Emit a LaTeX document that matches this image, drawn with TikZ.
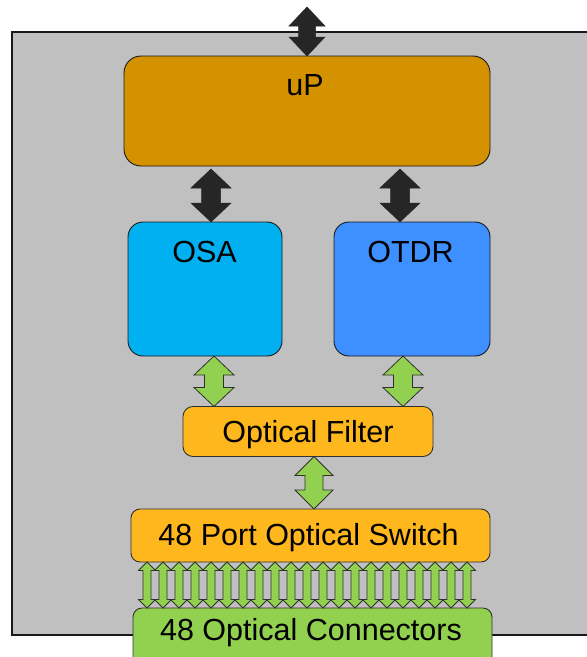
\documentclass[tikz,border=0pt]{standalone}
\usepackage{fontspec}
\setmainfont{Liberation Sans}
\usetikzlibrary{calc}

\definecolor{panelgray}{HTML}{C0C0C0}
\definecolor{cpuorange}{HTML}{D49200}
\definecolor{osablue}{HTML}{00B0F0}
\definecolor{otdrblue}{HTML}{3E8FFF}
\definecolor{amber}{HTML}{FFB71E}
\definecolor{leaf}{HTML}{92D050}
\definecolor{darkarrow}{HTML}{262626}
\definecolor{edge}{HTML}{303030}

% vertical double-headed block arrow:
% #1 top tip, #2 bottom tip, #3 half head width, #4 half shaft width, #5 head length, #6 style
\newcommand{\dblarrow}[6]{%
  \filldraw[#6] (#1) -- ([shift={(#3,#5)}]#1) -- ([shift={(#4,#5)}]#1)
    -- ([shift={(#4,-#5)}]#2) -- ([shift={(#3,-#5)}]#2) -- (#2)
    -- ([shift={(-#3,-#5)}]#2) -- ([shift={(-#4,-#5)}]#2)
    -- ([shift={(-#4,#5)}]#1) -- ([shift={(-#3,#5)}]#1) -- cycle;}

\tikzset{
  box/.style={draw=black!90, line width=0.9pt, inner sep=0pt, outer sep=0pt},
  label/.style={anchor=base, inner sep=0pt, font=\fontsize{30.5}{35}\selectfont},
  darkarr/.style={fill=darkarrow, draw=darkarrow, line width=0.5pt, line join=miter},
  greenarr/.style={fill=leaf, draw=edge, line width=0.8pt, line join=miter},
}

\begin{document}
\begin{tikzpicture}[x=1pt, y=-1pt]
  \useasboundingbox (0,0) rectangle (587,657);
  \clip (0,0) rectangle (587,657);

  % enclosure
  \node[box, fill=panelgray, line width=1.1pt, minimum width=598pt, minimum height=603pt] (panel) at (311,333.5) {};

  % processing blocks
  \node[box, fill=cpuorange, rounded corners=17pt, minimum width=366pt, minimum height=110pt] (up) at (307,111) {};
  \node[box, fill=osablue, rounded corners=15pt, minimum width=154pt, minimum height=134pt] (osa) at (205,289) {};
  \node[box, fill=otdrblue, rounded corners=15pt, minimum width=156pt, minimum height=134pt] (otdr) at (412,289) {};
  \node[box, fill=amber, draw=edge, rounded corners=10pt, minimum width=250pt, minimum height=50pt] (filter) at (308,431.5) {};
  \node[box, fill=amber, draw=edge, rounded corners=9pt, minimum width=359pt, minimum height=53pt] (switch) at (310.5,535.5) {};
  \node[box, fill=leaf, draw=edge, rounded corners=9pt, minimum width=359pt, minimum height=64pt] (conn) at (312.5,640) {};

  % labels
  \node[label] (upt) at (305,95) {uP};
  \node[label] (osat) at (204.5,262) {OSA};
  \node[label] (otdrt) at (410.5,262) {OTDR};
  \node[label] (filtert) at (308,442.5) {Optical Filter};
  \node[label] (switcht) at (308.5,545) {48 Port Optical Switch};
  \node[label] (connt) at (311,640) {48 Optical Connectors};

  % host link above the processor
  \coordinate (host) at ([yshift=49pt]up.north);
  \dblarrow{host}{up.north}{18}{8.5}{19}{darkarr}

  % processor to instruments
  \coordinate (a1b) at ([xshift=6pt]osa.north);
  \coordinate (a1t) at ([yshift=-3pt]up.south -| a1b);
  \dblarrow{a1t}{a1b}{20}{9.5}{19}{darkarr}
  \coordinate (a2b) at ([xshift=-12pt]otdr.north);
  \coordinate (a2t) at ([yshift=-3pt]up.south -| a2b);
  \dblarrow{a2t}{a2b}{20}{9.5}{19}{darkarr}

  % instruments to filter
  \coordinate (g1t) at ([xshift=9pt]osa.south);
  \coordinate (g1b) at (filter.north -| g1t);
  \dblarrow{g1t}{g1b}{20}{9.5}{19}{greenarr}
  \coordinate (g2t) at ([xshift=-9pt]otdr.south);
  \coordinate (g2b) at (filter.north -| g2t);
  \dblarrow{g2t}{g2b}{20}{9.5}{19}{greenarr}

  % filter to switch
  \coordinate (g3t) at ([xshift=6pt]filter.south);
  \coordinate (g3b) at (switch.north -| g3t);
  \dblarrow{g3t}{g3b}{19}{9}{19}{greenarr}

  % switch to connectors
  \foreach \k in {0,...,20} {
    \coordinate (s\k) at ([xshift={(16+16*\k)*1pt}]switch.south west);
    \coordinate (c\k) at (conn.north -| s\k);
    \dblarrow{s\k}{c\k}{8.5}{4}{8.5}{greenarr}
  }
\end{tikzpicture}
\end{document}
